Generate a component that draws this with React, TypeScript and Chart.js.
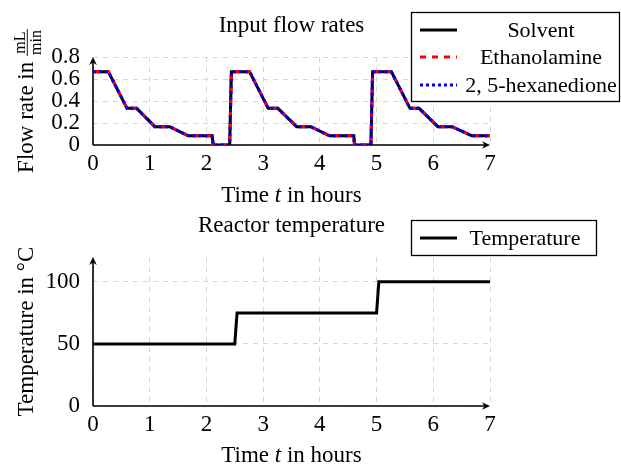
import React, { useEffect, useRef } from "react";
import { Chart, registerables } from "chart.js";

Chart.register(...registerables);

// ---------------- data ----------------
const flowTimes = [0, 0.27, 0.6, 0.77, 1.09, 1.35, 1.68, 2.1, 2.12, 2.41, 2.44, 2.76, 3.09, 3.26, 3.59, 3.84, 4.17, 4.6, 4.61, 4.9, 4.93, 5.26, 5.59, 5.75, 6.08, 6.33, 6.68, 7];
const solventFlow = [0.667, 0.667, 0.333, 0.333, 0.167, 0.167, 0.083, 0.083, 0, 0, 0.667, 0.667, 0.333, 0.333, 0.167, 0.167, 0.083, 0.083, 0, 0, 0.667, 0.667, 0.333, 0.333, 0.167, 0.167, 0.083, 0.083];
const ethanolamineFlow = [0.667, 0.667, 0.333, 0.333, 0.167, 0.167, 0.083, 0.083, 0, 0, 0.667, 0.667, 0.333, 0.333, 0.167, 0.167, 0.083, 0.083, 0, 0, 0.667, 0.667, 0.333, 0.333, 0.167, 0.167, 0.083, 0.083];
const hexanedioneFlow = [0.667, 0.667, 0.333, 0.333, 0.167, 0.167, 0.083, 0.083, 0, 0, 0.667, 0.667, 0.333, 0.333, 0.167, 0.167, 0.083, 0.083, 0, 0, 0.667, 0.667, 0.333, 0.333, 0.167, 0.167, 0.083, 0.083];
const flowLabels = ["Solvent", "Ethanolamine", "2, 5-hexanedione"];

const tempTimes = [0, 2.5, 2.54, 5.0, 5.04, 7];
const temperature = [50, 50, 75, 75, 100, 100];
const tempLabel = "Temperature";

const timeTicks = [0, 1, 2, 3, 4, 5, 6, 7];
const flowTicks = [0, 0.2, 0.4, 0.6, 0.8];
const tempTicks = [0, 50, 100];

const flowTitle = "Input flow rates";
const tempTitle = "Reactor temperature";

// ---------------- style ----------------
const W = 621;
const H = 465;
const FONT = "'Liberation Serif', 'Times New Roman', serif";
const FS = 23;
const LEG_FS = 22;
const GRID = "#d6d6d6";
const AXIS_W = 1.6;

const toPts = (xs: number[], ys: number[]) => xs.map((x, i) => ({ x, y: ys[i] }));

function arrowHead(ctx: CanvasRenderingContext2D, x: number, y: number, angle: number) {
  ctx.save();
  ctx.translate(x, y);
  ctx.rotate(angle);
  ctx.beginPath();
  ctx.moveTo(0, 0);
  ctx.lineTo(-8, -3.8);
  ctx.lineTo(-5.5, 0);
  ctx.lineTo(-8, 3.8);
  ctx.closePath();
  ctx.fill();
  ctx.restore();
}

type LegendLayout = {
  left: number; top: number; right: number; bottom: number;
  sx0: number; sx1: number; rows: number[]; textX: number;
};

function drawXTitle(ctx: CanvasRenderingContext2D, cx: number, baseY: number) {
  const parts: [string, string][] = [["Time ", `${FS}px ${FONT}`], ["t", `italic ${FS}px ${FONT}`], [" in hours", `${FS}px ${FONT}`]];
  let total = 0;
  const ws = parts.map(([s, f]) => { ctx.font = f; const w = ctx.measureText(s).width; total += w; return w; });
  let x = cx - total / 2;
  ctx.textAlign = "left";
  ctx.textBaseline = "alphabetic";
  parts.forEach(([s, f], i) => { ctx.font = f; ctx.fillText(s, x, baseY); x += ws[i]; });
}

function drawFlowYTitle(ctx: CanvasRenderingContext2D, baseX: number, cy: number) {
  ctx.save();
  ctx.translate(baseX, cy);
  ctx.rotate(-Math.PI / 2);
  const main = "Flow rate in ";
  const small = Math.round(FS * 0.7);
  ctx.font = `${FS}px ${FONT}`;
  const w1 = ctx.measureText(main).width;
  ctx.font = `${small}px ${FONT}`;
  const wf = Math.max(ctx.measureText("mL").width, ctx.measureText("min").width) + 2;
  const total = w1 + wf;
  const x0 = -total / 2;
  ctx.textBaseline = "alphabetic";
  ctx.textAlign = "left";
  ctx.font = `${FS}px ${FONT}`;
  ctx.fillText(main, x0, 0);
  const fx = x0 + w1 + wf / 2;
  const axis = -0.25 * FS;
  ctx.fillRect(fx - wf / 2, axis - 0.45, wf, 0.9);
  ctx.font = `${small}px ${FONT}`;
  ctx.textAlign = "center";
  ctx.fillText("mL", fx, axis - 2.5);
  ctx.fillText("min", fx, axis + 2.5 + small * 0.68);
  ctx.restore();
}

function drawTempYTitle(ctx: CanvasRenderingContext2D, baseX: number, cy: number) {
  ctx.save();
  ctx.translate(baseX, cy);
  ctx.rotate(-Math.PI / 2);
  ctx.font = `${FS}px ${FONT}`;
  ctx.textAlign = "center";
  ctx.textBaseline = "alphabetic";
  ctx.fillText("Temperature in °C", 0, 0);
  ctx.restore();
}

function makeDecor(o: {
  title: string; titleY: number; xTitleY: number; yTitleX: number;
  yTitle: (ctx: CanvasRenderingContext2D, x: number, cy: number) => void;
  legend: LegendLayout;
}) {
  return {
    id: "decor",
    beforeDatasetsDraw(chart: any) {
      const ctx: CanvasRenderingContext2D = chart.ctx;
      const xs = chart.scales.x, ys = chart.scales.y;
      const x0 = xs.getPixelForValue(xs.min), x1 = xs.getPixelForValue(xs.max);
      const y0 = ys.getPixelForValue(ys.min), y1 = ys.getPixelForValue(ys.max);
      ctx.save();
      ctx.setLineDash([]);
      ctx.strokeStyle = "#000";
      ctx.fillStyle = "#000";
      ctx.lineWidth = AXIS_W;
      ctx.beginPath();
      ctx.moveTo(x0, y0);
      ctx.lineTo(x1 - 5, y0);
      ctx.moveTo(x0, y0);
      ctx.lineTo(x0, y1 + 5);
      ctx.stroke();
      arrowHead(ctx, x1, y0, 0);
      arrowHead(ctx, x0, y1, -Math.PI / 2);
      ctx.restore();
    },
    afterDraw(chart: any) {
      const ctx: CanvasRenderingContext2D = chart.ctx;
      const ca = chart.chartArea;
      const cx = (ca.left + ca.right) / 2;
      const cy = (ca.top + ca.bottom) / 2;
      ctx.save();
      ctx.fillStyle = "#000";
      // title
      ctx.font = `${FS}px ${FONT}`;
      ctx.textAlign = "center";
      ctx.textBaseline = "alphabetic";
      ctx.fillText(o.title, cx, o.titleY);
      // axis titles
      drawXTitle(ctx, cx, o.xTitleY);
      o.yTitle(ctx, o.yTitleX, cy);
      // legend
      const L = o.legend;
      ctx.fillStyle = "#fff";
      ctx.fillRect(L.left, L.top, L.right - L.left, L.bottom - L.top);
      ctx.strokeStyle = "#000";
      ctx.lineWidth = 1.3;
      ctx.setLineDash([]);
      ctx.strokeRect(L.left, L.top, L.right - L.left, L.bottom - L.top);
      chart.data.datasets.forEach((ds: any, i: number) => {
        const y = L.rows[i];
        ctx.save();
        ctx.strokeStyle = ds.borderColor;
        ctx.lineWidth = ds.borderWidth;
        ctx.lineCap = "butt";
        ctx.setLineDash(ds.borderDash || []);
        ctx.beginPath();
        ctx.moveTo(L.sx0, y);
        ctx.lineTo(L.sx1, y);
        ctx.stroke();
        ctx.restore();
        ctx.fillStyle = "#000";
        ctx.font = `${LEG_FS}px ${FONT}`;
        ctx.textAlign = "center";
        ctx.textBaseline = "middle";
        ctx.fillText(ds.label, L.textX, y + 1);
      });
      ctx.restore();
    },
  };
}

function scales(xHeight: number, yTicks: number[], yMax: number) {
  const tickFont = { family: FONT, size: FS };
  return {
    x: {
      type: "linear" as const,
      min: 0,
      max: 7,
      afterBuildTicks: (s: any) => { s.ticks = timeTicks.map((v) => ({ value: v })); },
      afterFit: (s: any) => { s.height = xHeight; },
      grid: { color: GRID, lineWidth: 1, drawTicks: false },
      border: { display: false, dash: [5, 5] },
      ticks: { padding: 5, color: "#000", font: tickFont, maxRotation: 0, autoSkip: false },
    },
    y: {
      type: "linear" as const,
      min: 0,
      max: yMax,
      afterBuildTicks: (s: any) => { s.ticks = yTicks.map((v) => ({ value: v })); },
      afterFit: (s: any) => { s.width = 93; },
      grid: { color: GRID, lineWidth: 1, drawTicks: false },
      border: { display: false, dash: [5, 5] },
      ticks: { padding: 13, color: "#000", font: tickFont, autoSkip: false },
    },
  };
}

const lineBase = { pointRadius: 0, tension: 0, fill: false, borderCapStyle: "butt", borderJoinStyle: "miter" };

export default function App() {
  const topRef = useRef<HTMLCanvasElement>(null);
  const botRef = useRef<HTMLCanvasElement>(null);

  useEffect(() => {
    const c1 = new Chart(topRef.current!, {
      type: "line",
      data: {
        datasets: [
          { ...lineBase, label: flowLabels[0], data: toPts(flowTimes, solventFlow), borderColor: "#000000", borderWidth: 3, order: 2 },
          { ...lineBase, label: flowLabels[1], data: toPts(flowTimes, ethanolamineFlow), borderColor: "#ff0000", borderWidth: 3, borderDash: [6, 6], order: 1 },
          { ...lineBase, label: flowLabels[2], data: toPts(flowTimes, hexanedioneFlow), borderColor: "#0000ff", borderWidth: 3, borderDash: [3, 3], order: 0 },
        ] as any,
      },
      options: {
        responsive: false,
        animation: false,
        devicePixelRatio: 1,
        layout: { padding: { left: 0, right: 131, top: 57, bottom: 265 } },
        scales: scales(55, flowTicks, 0.8) as any,
        plugins: { legend: { display: false }, tooltip: { enabled: false }, title: { display: false } },
      },
      plugins: [
        makeDecor({
          title: flowTitle, titleY: 32, xTitleY: 202, yTitleX: 33, yTitle: drawFlowYTitle,
          legend: { left: 411.5, top: 12.5, right: 619.5, bottom: 101.5, sx0: 420, sx1: 457, rows: [30, 57, 85], textX: 541 },
        }) as any,
      ],
    });

    const c2 = new Chart(botRef.current!, {
      type: "line",
      data: {
        datasets: [
          { ...lineBase, label: tempLabel, data: toPts(tempTimes, temperature), borderColor: "#000000", borderWidth: 3 },
        ] as any,
      },
      options: {
        responsive: false,
        animation: false,
        devicePixelRatio: 1,
        layout: { padding: { left: 0, right: 131, top: 257, bottom: 0 } },
        scales: scales(59, tempTicks, 120) as any,
        plugins: { legend: { display: false }, tooltip: { enabled: false }, title: { display: false } },
      },
      plugins: [
        makeDecor({
          title: tempTitle, titleY: 232, xTitleY: 462, yTitleX: 33, yTitle: drawTempYTitle,
          legend: { left: 411.5, top: 220.5, right: 596.5, bottom: 255.5, sx0: 420, sx1: 457, rows: [238], textX: 525 },
        }) as any,
      ],
    });

    return () => {
      c1.destroy();
      c2.destroy();
    };
  }, []);

  const cs: React.CSSProperties = { position: "absolute", left: 0, top: 0, width: W, height: H };
  return (
    <div style={{ position: "fixed", left: 0, top: 0, width: W, height: H, background: "#fff" }}>
      <canvas ref={topRef} width={W} height={H} style={cs} />
      <canvas ref={botRef} width={W} height={H} style={cs} />
    </div>
  );
}
